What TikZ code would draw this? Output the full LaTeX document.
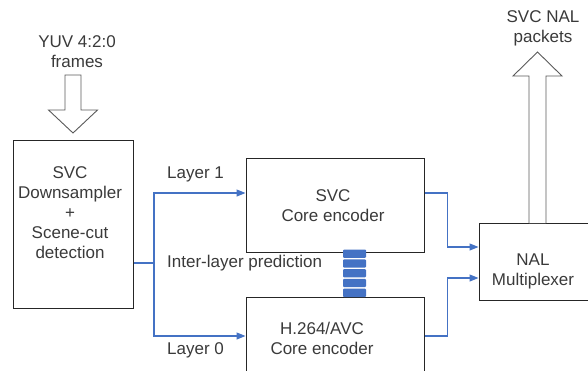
\documentclass[tikz,border=0pt]{standalone}
\usepackage{fontspec}
\setmainfont{Liberation Sans}
\usetikzlibrary{arrows.meta}
\definecolor{lnblue}{HTML}{4472C4}
\definecolor{txt}{HTML}{3A3A3A}
\definecolor{hollow}{HTML}{5A5A5A}
\begin{document}
\begin{tikzpicture}[x=1pt,y=-1pt,
  box/.style={draw=black!85, line width=1pt, inner sep=0pt},
  lbl/.style={text=txt, font=\fontsize{17}{20}\selectfont, align=center, inner sep=0pt},
  conn/.style={draw=lnblue, line width=1.1pt, -{Triangle[length=9pt,width=7pt]}},
  wire/.style={draw=lnblue, line width=1.1pt},
  hol/.style={draw=hollow, fill=white, line width=0.9pt, line join=miter}]
\path[use as bounding box] (0,0) rectangle (588,370);
\clip (0,0) rectangle (588,370);

% boxes
\node[box, minimum width=120pt, minimum height=168pt] (ds) at (73,224) {};
\node[box, minimum width=178pt, minimum height=94pt] (svc) at (335,205) {};
\node[box, minimum width=178pt, minimum height=123pt] (h264) at (335,358.5) {};
\node[box, minimum width=141pt, minimum height=77pt] (nal) at (549.5,261.5) {};

% box texts
\node[lbl] (dstxt) at (70,213) {SVC\\Downsampler\\+\\Scene-cut\\detection};
\node[lbl] (svctxt) at (333,205.5) {SVC\\Core encoder};
\node[lbl] (h264txt) at (322,338) {H.264/AVC\\Core encoder};
\node[lbl] (naltxt) at (533,271.5) {NAL\\Multiplexer};

% outside labels
\node[lbl] (yuv) at (77,52) {YUV 4:2:0\\frames};
\node[lbl] (pkt) at (543,28) {SVC NAL\\packets};
\node[lbl, anchor=west] (l1) at (167,174) {Layer 1};
\node[lbl, anchor=west] (l0) at (167,350) {Layer 0};
\node[lbl, anchor=west] (ilp) at (167,263) {Inter-layer prediction};

% hollow arrows
\draw[hol] (65,75) -- (81,75) -- (81,110) -- (97.5,110) -- (73,133) -- (48.5,110) -- (65,110) -- cycle;
\draw[hol] (529,223) -- (529,76) -- (513,76) -- (537.5,52) -- (562,76) -- (546,76) -- (546,223);

% connectors
\coordinate (sp) at (154,263);
\draw[wire] (ds.east |- sp) -- (sp);
\draw[conn] (sp) |- ([yshift=12pt]svc.west);
\draw[conn] (sp) |- ([yshift=22.5pt]h264.west);
\draw[conn] ([yshift=12pt]svc.east) -- ++(23,0) |- ([yshift=14.5pt]nal.west);
\draw[conn] ([yshift=22.5pt]h264.east) -- ++(23,0) |- ([yshift=-16.5pt]nal.west);

% inter-layer link
\foreach \i in {0,...,4}
  \fill[lnblue, rounded corners=1pt] (343,249.5+\i*9.8) rectangle (366,249.5+\i*9.8+8.3);
\end{tikzpicture}
\end{document}
